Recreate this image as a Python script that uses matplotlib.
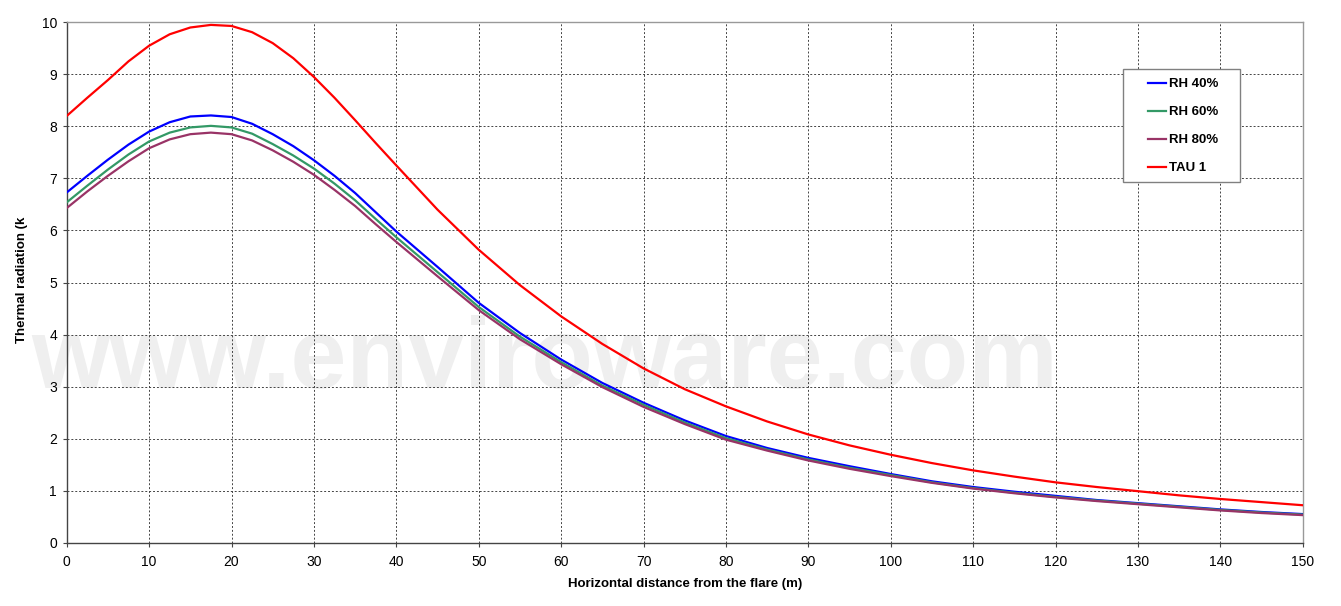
import matplotlib
matplotlib.use("Agg")
import matplotlib.pyplot as plt
from matplotlib.patches import Rectangle

plt.rcParams["font.family"] = ["Liberation Sans", "DejaVu Sans"]

# distancia horizontal (m)
distancia = [0, 2.5, 5, 7.5, 10, 12.5, 15, 17.5, 20, 22.5, 25, 27.5, 30, 32.5, 35, 37.5,
             40, 45, 50, 55, 60, 65, 70, 75, 80, 85, 90, 95, 100, 105, 110, 115, 120,
             125, 130, 135, 140, 145, 150]

rh40 = [6.73, 7.05, 7.36, 7.65, 7.90, 8.08, 8.19, 8.21, 8.18, 8.05, 7.85, 7.62, 7.35, 7.05,
        6.72, 6.35, 5.98, 5.30, 4.61, 4.03, 3.52, 3.07, 2.69, 2.35, 2.05, 1.82, 1.63, 1.47,
        1.32, 1.18, 1.07, 0.98, 0.90, 0.82, 0.76, 0.70, 0.64, 0.59, 0.55]

rh60 = [6.54, 6.86, 7.17, 7.46, 7.71, 7.88, 7.98, 8.01, 7.98, 7.86, 7.66, 7.44, 7.19, 6.90,
        6.58, 6.22, 5.87, 5.20, 4.53, 3.96, 3.47, 3.02, 2.65, 2.31, 2.01, 1.79, 1.60, 1.44,
        1.30, 1.16, 1.05, 0.96, 0.88, 0.81, 0.75, 0.69, 0.63, 0.58, 0.54]

rh80 = [6.43, 6.75, 7.05, 7.33, 7.58, 7.75, 7.85, 7.88, 7.85, 7.73, 7.54, 7.32, 7.07, 6.78,
        6.47, 6.12, 5.78, 5.12, 4.47, 3.91, 3.43, 2.99, 2.61, 2.28, 1.98, 1.77, 1.58, 1.42,
        1.28, 1.15, 1.04, 0.95, 0.87, 0.80, 0.74, 0.68, 0.62, 0.57, 0.53]

tau1 = [8.20, 8.55, 8.89, 9.25, 9.55, 9.77, 9.90, 9.95, 9.93, 9.81, 9.60, 9.31, 8.95, 8.55,
        8.12, 7.68, 7.25, 6.40, 5.63, 4.95, 4.35, 3.82, 3.35, 2.95, 2.62, 2.33, 2.08, 1.87,
        1.69, 1.53, 1.39, 1.27, 1.16, 1.07, 0.99, 0.91, 0.84, 0.78, 0.72]

series = [
    ("RH 40%", rh40, "#0000ff"),
    ("RH 60%", rh60, "#339966"),
    ("RH 80%", rh80, "#993366"),
    ("TAU 1", tau1, "#ff0000"),
]

W, H = 1341, 606
fig = plt.figure(figsize=(W / 100, H / 100), dpi=100)
ax = fig.add_axes([66.7 / W, 1 - 542.7 / H, (1302.7 - 66.7) / W, (542.7 - 22.3) / H])
ax.patch.set_alpha(0)

# marca de agua
fig.text(545 / W, 1 - 388 / H, "www.enviroware.com", fontsize=72.5, fontweight="bold",
         color="#efefef", ha="center", va="baseline", zorder=-1)

for etiqueta, valores, color in series:
    ax.plot(distancia, valores, color=color, linewidth=1.6, label=etiqueta, zorder=3)

ax.set_xlim(0, 150)
ax.set_ylim(0, 10)
ax.set_xticks(range(0, 151, 10))
ax.set_yticks(range(0, 11))
ax.set_axisbelow(True)
ax.grid(True, color="#444444", linestyle=(0, (2, 2)), linewidth=0.7)

for lado in ["top", "right"]:
    ax.spines[lado].set_color("#999999")
    ax.spines[lado].set_linewidth(1.0)
for lado in ["left", "bottom"]:
    ax.spines[lado].set_color("#444444")
    ax.spines[lado].set_linewidth(1.0)

ax.tick_params(axis="both", direction="out", length=3, width=0.8, color="#444444",
               labelsize=10, pad=4)
ax.tick_params(axis="x", pad=6)

fig.text(684.7 / W, 1 - 584 / H, "Horizontal distance from the flare (m)",
         fontsize=9.5, fontweight="bold", ha="center", va="center")
fig.text(22 / W, 1 - 280 / H, "Thermal radiation (k", rotation=90,
         fontsize=9.5, fontweight="bold", ha="center", va="center")

# marco de la leyenda
ax.add_patch(Rectangle((1123 / W, 1 - 182 / H), 117 / W, 113 / H,
                       transform=fig.transFigure, facecolor="white",
                       edgecolor="#808080", linewidth=1.0, zorder=4, clip_on=False))

leyenda = ax.legend(loc="upper left", bbox_to_anchor=(1148 / W, 1 - 78 / H),
                    bbox_transform=fig.transFigure, prop={"weight": "bold", "size": 9.5},
                    frameon=False, handlelength=1.4, handletextpad=0.2,
                    labelspacing=1.2, borderpad=0, borderaxespad=0)
leyenda.set_zorder(5)

fig.savefig("out.png", dpi=100)
